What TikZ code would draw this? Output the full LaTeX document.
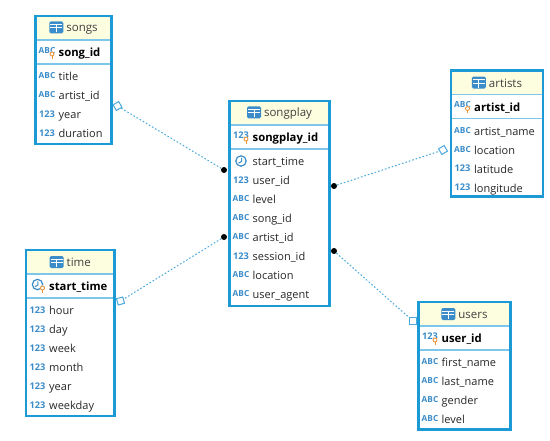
\documentclass[tikz,border=0pt]{standalone}
\usepackage{fontspec}
\setmainfont{Open Sans}
\definecolor{frameblue}{HTML}{1B9AD6}
\definecolor{lineblue}{HTML}{7CC6EA}
\definecolor{iconblue}{HTML}{3B8CC9}
\definecolor{linkblue}{HTML}{4AA8DC}
\definecolor{headfill}{HTML}{FDFDE0}
\definecolor{bulbcolor}{HTML}{E8963A}
\newcommand{\gridglyph}{\tikz[baseline=1.5pt,x=1pt,y=1pt]{
  \fill[iconblue,rounded corners=1.5pt] (0,0) rectangle (14,12);
  \draw[white,line width=1pt] (1,5.5) -- (13,5.5) (7,1) -- (7,5.5) (7,5.5) -- (7,9) (1,9) -- (13,9);}}
\newcommand{\clockglyph}{\tikz[x=1pt,y=1pt]{
  \draw[iconblue,line width=1.2pt] (0,0) circle (5.2pt);
  \draw[iconblue,line width=1pt] (0.5,3.2) -- (0.5,-.5) -- (-2.5,-2.2);}}
\newcommand{\abcglyph}{ABC}
\newcommand{\numglyph}{123}
\tikzset{
  tablebox/.style={draw=frameblue,line width=2.4pt,inner sep=0pt,outer sep=0pt,anchor=north west},
  headbox/.style={fill=headfill,inner sep=0pt,outer sep=0pt,anchor=north west,font=\fontsize{11.5}{13}\selectfont,text=black!75},
  rowline/.style={draw=lineblue,line width=1.4pt},
  rowtext/.style={anchor=base west,inner sep=0pt,font=\fontsize{11}{13}\selectfont,text=black!85},
  keytext/.style={anchor=base west,inner sep=0pt,font=\fontsize{11.3}{13}\selectfont\bfseries},
  abc icon/.style={inner sep=0pt,text=iconblue,font=\fontsize{8.3}{9}\selectfont\bfseries},
  num icon/.style={inner sep=0pt,text=iconblue,font=\fontsize{9.2}{10}\selectfont\bfseries},
  clock icon/.style={inner sep=0pt},
  fkdot/.style={circle,fill=black,inner sep=0pt,minimum size=6pt},
  fkmark/.style={draw=linkblue,fill=white,line width=1pt,inner sep=0pt,minimum size=6.5pt},
  fklink/.style={draw=linkblue,line width=1pt,dash pattern=on 1.6pt off 2pt},
}
% name, left, top, width, height, key icon, key, rows
\newcommand{\erdtable}[8]{
  \begin{scope}[shift={(#2,#3)}]
    \node[headbox,minimum width=#4pt,minimum height=24pt] (#1-head) at (0,0) {\gridglyph\hspace{3pt}#1};
    \draw[rowline] (#1-head.south west) -- (#1-head.south east);
    \coordinate (#1-keyl) at (0,48);
    \coordinate (#1-keyr) at (#4,48);
    \draw[rowline] (#1-keyl) -- (#1-keyr);
    \node[#6 icon] (#1-keyicon) at (11.5,34.5) {\csname #6glyph\endcsname};
    \fill[white] (16.5,38) circle (2.6pt);
    \draw[bulbcolor,line width=.9pt,fill=white] (16.5,38) circle (2pt);
    \draw[bulbcolor,line width=1pt] (16.5,40) -- (16.5,42.5);
    \node[keytext] (#1-key) at (23,40.5) {#7};
    \foreach \kind/\txt [count=\i] in {#8} {
      \node[\kind\space icon] (#1-icon\i) at (11.5,{41+19*\i}) {\csname\kind glyph\endcsname};
      \node[rowtext] (#1-row\i) at (23,{45.5+19*\i}) {\txt};
    }
    \node[tablebox,minimum width=#4pt,minimum height=#5pt] (#1) at (0,0) {};
  \end{scope}
}
\begin{document}
\begin{tikzpicture}[x=1pt,y=-1pt]
\useasboundingbox (0,0) rectangle (550,440);
% Tables
\erdtable{songs}{35.5}{16}{76}{128}{abc}{song\_id}{abc/title,abc/artist\_id,num/year,num/duration}
\erdtable{songplay}{229.5}{101}{100}{205}{num}{songplay\_id}{clock/start\_time,num/user\_id,abc/level,abc/song\_id,abc/artist\_id,num/session\_id,abc/location,abc/user\_agent}
\erdtable{artists}{451}{70.5}{92}{126}{abc}{artist\_id}{abc/artist\_name,abc/location,num/latitude,num/longitude}
\erdtable{time}{26}{250}{88.5}{166}{clock}{start\_time}{num/hour,num/day,num/week,num/month,num/year,num/weekday}
\erdtable{users}{418.5}{302}{92}{127.5}{num}{user\_id}{abc/first\_name,abc/last\_name,abc/gender,abc/level}
% Links
\node[fkdot] (dotsongs) at (224,170) {};
\node[fkmark,rotate=30] (marksongs) at (117.5,106) {};
\node[fkdot] (dotartists) at (334,186) {};
\node[fkmark,rotate=30] (markartists) at (443,150) {};
\node[fkdot] (dottime) at (224,237) {};
\node[fkmark,rotate=15] (marktime) at (120.5,301) {};
\node[fkdot] (dotusers) at (334,251) {};
\node[fkmark] (markusers) at (413,321) {};
\draw[fklink] (dotsongs) -- (marksongs);
\draw[fklink] (dotartists) -- (markartists);
\draw[fklink] (dottime) -- (marktime);
\draw[fklink] (dotusers) -- (markusers);
\end{tikzpicture}
\end{document}
